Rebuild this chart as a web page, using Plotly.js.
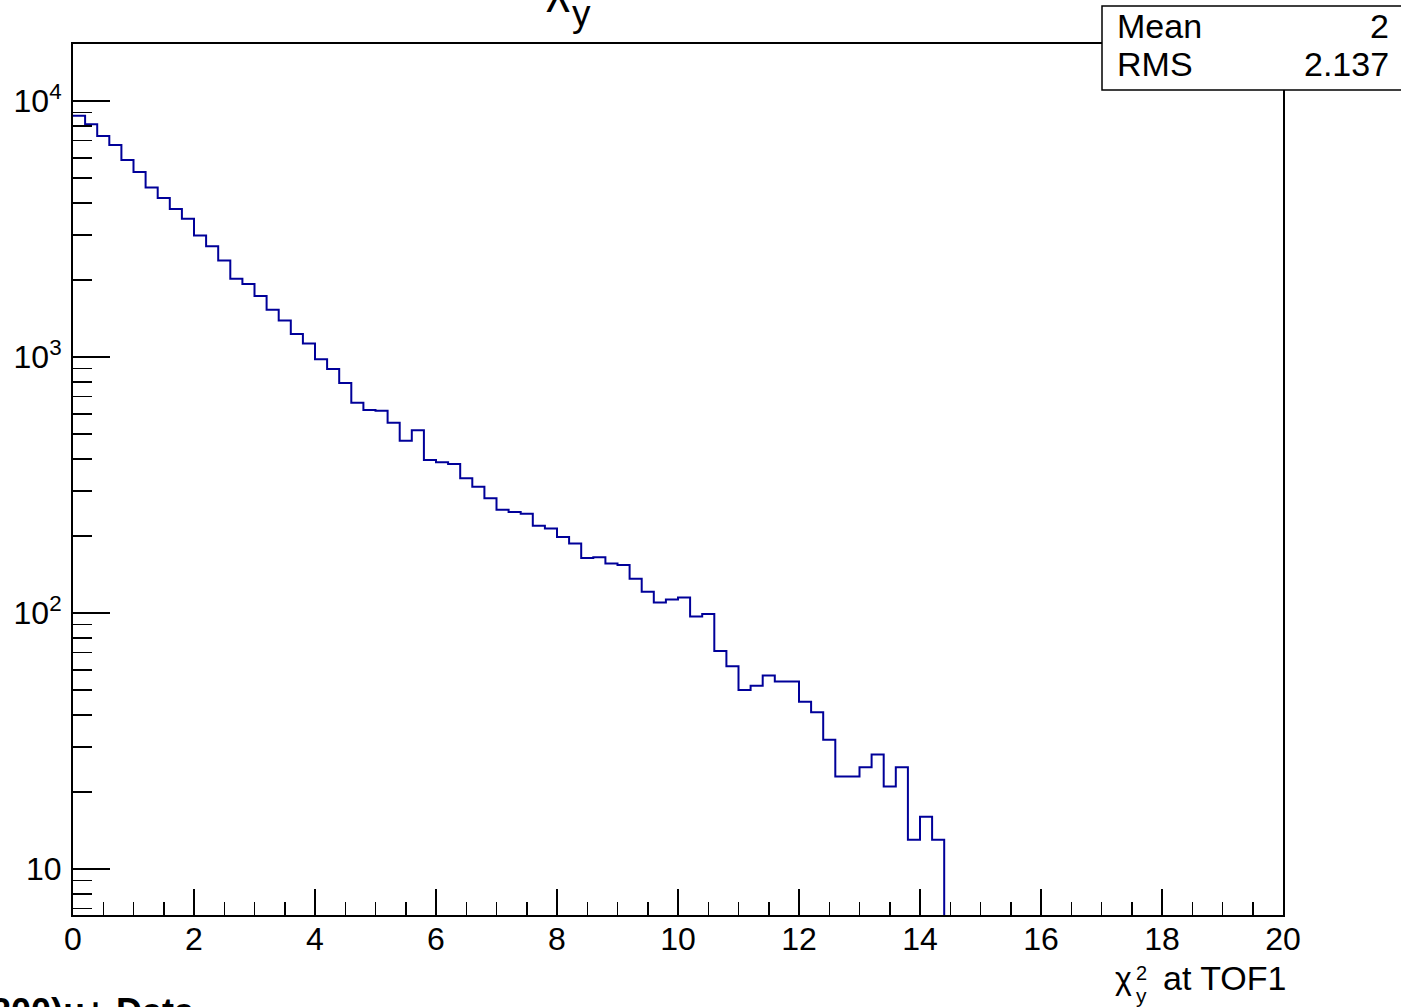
<!DOCTYPE html>
<html><head><meta charset="utf-8">
<script src="https://cdn.plot.ly/plotly-3.0.1.min.js"></script>
<style>html,body{margin:0;padding:0;background:#fff}#chart{width:1401px;height:1007px}</style>
</head><body><div id="chart"></div>
<script>
// ---- data ----
const binLow = 0;
const binWidth = 0.2;
const nBins = 100;
const counts = [8760, 8110, 7300, 6730, 5880, 5280, 4590, 4180, 3790, 3470,
  2980, 2710, 2380, 2020, 1930, 1730, 1530, 1390, 1230, 1130,
  980, 898, 791, 663, 621, 617, 554, 471, 517, 396,
  388, 382, 336, 311, 281, 253, 248, 244, 219, 214,
  198, 187, 164, 165, 156, 154, 136, 121, 110, 113,
  115, 97, 99, 71, 62, 50, 52, 57, 54, 54,
  45, 41, 32, 23, 23, 25, 28, 21, 25, 13,
  16, 13];           // remaining bins up to 20 are empty
const statLabels = ['Mean', 'RMS'];
const statValues = ['2', '2.137'];
const yTickVals = [10, 100, 1000, 10000];
const yTickText = ['10', '10<sup>2</sup>', '10<sup>3</sup>', '10<sup>4</sup>'];
const xTitleMain = 'χ';
const xTitleSup = '2';
const xTitleSub = 'y';
const xTitleRest = 'at TOF1';
const plotTitleMain = 'χ';
const plotTitleSub = 'y';
const footerText = '(200)μ+ Data';

// ---- build step histogram ----
const full = [];
for (let i = 0; i < nBins; i++) full.push(i < counts.length ? counts[i] : 0);
const floorVal = 1; // empty bins drawn below the visible log range
const xs = [], ys = [];
for (let i = 0; i < nBins; i++) {
  xs.push(binLow + i * binWidth);
  ys.push(full[i] > 0 ? full[i] : floorVal);
}
xs.push(binLow + nBins * binWidth);
ys.push(full[nBins - 1] > 0 ? full[nBins - 1] : floorVal);

const minorY = [];
for (let d = 0; d <= 4; d++) for (let k = 2; k <= 9; k++) minorY.push(k * Math.pow(10, d));

// ---- geometry helpers (layout only) ----
const L = 73, T = 44, W = 1210, H = 871;
const px = x => (x - L) / W;
const py = y => (T + H - y) / H;
const FONT = 'Liberation Sans, Arial, Helvetica, sans-serif';
const FS = 32;

const trace = {
  x: xs, y: ys, type: 'scatter', mode: 'lines',
  line: {shape: 'hv', color: '#000099', width: 2},
  hoverinfo: 'skip', showlegend: false
};

const tickFont = {family: FONT, size: FS, color: '#000'};
const layout = {
  width: 1401, height: 1007,
  margin: {l: L, r: 1401 - L - W, t: T, b: 1007 - T - H, pad: 0},
  paper_bgcolor: '#fff', plot_bgcolor: '#fff',
  showlegend: false,
  xaxis: {
    range: [0, 20], tick0: 0, dtick: 2, ticks: 'inside', ticklen: 26, tickwidth: 1.5, tickcolor: '#000',
    showline: true, linewidth: 2, linecolor: '#000', mirror: true, showgrid: false, zeroline: false,
    tickfont: tickFont, ticklabelstandoff: -5,
    minor: {tick0: 0, dtick: 0.5, ticks: 'inside', ticklen: 13, tickwidth: 1.5, tickcolor: '#000', showgrid: false}
  },
  yaxis: {
    type: 'log', range: [0.8203, 4.2227], tickmode: 'array', tickvals: yTickVals, ticktext: yTickText,
    ticks: 'inside', ticklen: 37, tickwidth: 1.5, tickcolor: '#000',
    showline: true, linewidth: 2, linecolor: '#000', mirror: true, showgrid: false, zeroline: false,
    tickfont: tickFont, ticklabelstandoff: 3,
    minor: {tickmode: 'array', tickvals: minorY, ticks: 'inside', ticklen: 19, tickwidth: 1.5, tickcolor: '#000', showgrid: false}
  },
  shapes: [{
    type: 'rect', xref: 'paper', yref: 'paper', layer: 'above',
    x0: px(1102), x1: px(1403), y0: py(90), y1: py(6),
    fillcolor: '#fff', line: {color: '#000', width: 1.5}
  }],
  annotations: [
    // stats box
    {xref: 'paper', yref: 'paper', x: px(1115), y: py(25.6), xanchor: 'left', yanchor: 'middle', showarrow: false,
     text: statLabels[0], font: {family: FONT, size: 34, color: '#000'}},
    {xref: 'paper', yref: 'paper', x: px(1391), y: py(25.6), xanchor: 'right', yanchor: 'middle', showarrow: false,
     text: statValues[0], font: {family: FONT, size: 34, color: '#000'}},
    {xref: 'paper', yref: 'paper', x: px(1115), y: py(63.6), xanchor: 'left', yanchor: 'middle', showarrow: false,
     text: statLabels[1], font: {family: FONT, size: 34, color: '#000'}},
    {xref: 'paper', yref: 'paper', x: px(1391), y: py(63.6), xanchor: 'right', yanchor: 'middle', showarrow: false,
     text: statValues[1], font: {family: FONT, size: 34, color: '#000'}},
    // x-axis title
    {xref: 'paper', yref: 'paper', x: px(1288), y: py(978), xanchor: 'right', yanchor: 'middle', showarrow: false,
     text: xTitleRest, font: {family: FONT, size: 34, color: '#000'}},
    {xref: 'paper', yref: 'paper', x: px(1113), y: py(978), xanchor: 'left', yanchor: 'middle', showarrow: false,
     text: xTitleMain, font: {family: FONT, size: FS, color: '#000'}},
    {xref: 'paper', yref: 'paper', x: px(1134), y: py(973), xanchor: 'left', yanchor: 'middle', showarrow: false,
     text: xTitleSup, font: {family: FONT, size: 20, color: '#000'}},
    {xref: 'paper', yref: 'paper', x: px(1134), y: py(995.5), xanchor: 'left', yanchor: 'middle', showarrow: false,
     text: xTitleSub, font: {family: FONT, size: 21, color: '#000'}},
    // clipped plot title
    {xref: 'paper', yref: 'paper', x: px(572), y: py(14), xanchor: 'right', yanchor: 'bottom', showarrow: false,
     text: plotTitleMain, font: {family: FONT, size: 46, color: '#000'}},
    {xref: 'paper', yref: 'paper', x: px(570), y: py(36), xanchor: 'left', yanchor: 'bottom', showarrow: false,
     text: plotTitleSub, font: {family: FONT, size: 37, color: '#000'}},
    // clipped footer text
    {xref: 'paper', yref: 'paper', x: px(197), y: py(989), xanchor: 'right', yanchor: 'top', showarrow: false,
     text: '<b>' + footerText + '</b>', font: {family: FONT, size: 36, color: '#000'}}
  ]
};

Plotly.newPlot('chart', [trace], layout, {staticPlot: true, displayModeBar: false});
</script>
</body></html>
